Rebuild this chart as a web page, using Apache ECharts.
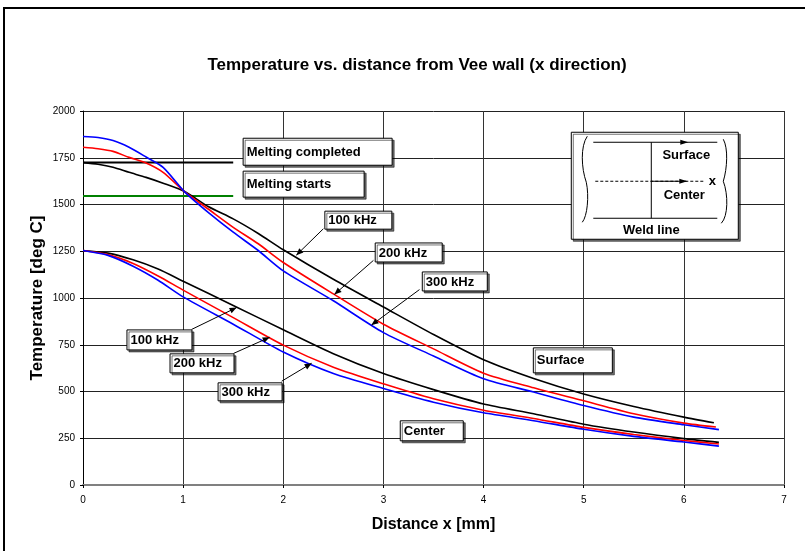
<!DOCTYPE html>
<html><head><meta charset="utf-8">
<script src="https://cdn.jsdelivr.net/npm/echarts@6/dist/echarts.min.js"></script>
<style>html,body{margin:0;padding:0;background:#fff}#c{width:805px;height:551px}</style>
</head><body><div id="c"></div>
<script>
// ---- data ----
const titleText = 'Temperature vs. distance from Vee wall (x direction)';
const xTicks = [0, 1, 2, 3, 4, 5, 6, 7];
const yTicks = [0, 250, 500, 750, 1000, 1250, 1500, 1750, 2000];

const surfX100 = [0, 0.15, 0.3, 0.46, 0.63, 0.8, 1.02, 1.25, 1.5, 1.75, 2.0, 2.5, 3.0, 3.5, 4.0, 4.5, 5.0, 5.5, 6.0, 6.30];
const surfY100 = [1724, 1715, 1699, 1672, 1645, 1614, 1568, 1489, 1423, 1345, 1258, 1100, 952, 805, 670, 570, 487, 420, 363, 333];
const surfX200 = [0, 0.15, 0.3, 0.46, 0.63, 0.8, 1.02, 1.25, 1.5, 1.75, 2.0, 2.5, 3.0, 3.5, 4.0, 4.5, 5.0, 5.5, 6.0, 6.32];
const surfY200 = [1806, 1798, 1784, 1752, 1722, 1672, 1566, 1476, 1378, 1290, 1190, 1022, 860, 728, 598, 520, 450, 381, 331, 310];
const surfX300 = [0, 0.15, 0.3, 0.46, 0.63, 0.8, 1.02, 1.25, 1.5, 1.75, 2.0, 2.5, 3.0, 3.5, 4.0, 4.5, 5.0, 5.5, 6.0, 6.35];
const surfY300 = [1864, 1858, 1842, 1806, 1754, 1699, 1565, 1458, 1352, 1254, 1145, 985, 815, 690, 568, 497, 425, 363, 322, 296];

const centX = [0, 0.25, 0.5, 0.75, 1.0, 1.5, 2.0, 2.5, 3.0, 3.5, 4.0, 4.5, 5.0, 5.5, 6.0, 6.35];
const centY100 = [1254, 1240, 1204, 1155, 1090, 960, 830, 702, 596, 510, 433, 381, 325, 283, 248, 228];
const centY200 = [1254, 1232, 1185, 1118, 1042, 895, 748, 630, 541, 461, 400, 356, 308, 270, 238, 219];
const centY300 = [1254, 1228, 1170, 1095, 1006, 860, 711, 596, 516, 443, 386, 344, 298, 260, 230, 208];

const meltCompletedX = [0, 1.5];
const meltCompletedY = [1725, 1725];
const meltStartsX = [0, 1.5];
const meltStartsY = [1545, 1545];

// annotation anchors in data coordinates: box top-left, arrow tail, arrow tip
const annotations = [
  { text: '100 kHz', box: [2.41, 1467], w: 67, h: 18, tail: [2.40, 1370], tip: [2.13, 1229] },
  { text: '200 kHz', box: [2.913, 1297], w: 67, h: 19, tail: [2.90, 1201], tip: [2.51, 1019] },
  { text: '300 kHz', box: [3.383, 1142], w: 65, h: 19, tail: [3.36, 1045], tip: [2.88, 855] },
  { text: '100 kHz', box: [0.434, 832], w: 65, h: 20, tail: [1.085, 832], tip: [1.534, 949] },
  { text: '200 kHz', box: [0.864, 704], w: 64, h: 19, tail: [1.505, 704], tip: [1.864, 790] },
  { text: '300 kHz', box: [1.344, 549], w: 64, h: 18, tail: [1.984, 555], tip: [2.283, 651] },
  { text: 'Melting completed', box: [1.594, 1857], w: 149, h: 27 },
  { text: 'Melting starts', box: [1.594, 1681], w: 121, h: 26 },
  { text: 'Surface', box: [4.492, 736], w: 79, h: 25 },
  { text: 'Center', box: [3.163, 346], w: 63, h: 20 }
];
const insetAnchor = [4.871, 1889];

function pairs(xs, ys) { return xs.map((x, i) => [x, ys[i]]); }

const chart = echarts.init(document.getElementById('c'), null, { renderer: 'canvas' });
const FONT = '"Liberation Sans", Arial, sans-serif';

function lineSeries(name, xs, ys, color, width) {
  return {
    name, type: 'line', data: pairs(xs, ys), showSymbol: false, smooth: 0.25,
    lineStyle: { color, width }, z: 5, animation: false
  };
}

const option = {
  animation: false,
  backgroundColor: '#fff',
  title: {
    text: titleText, left: 412, top: 52, textAlign: 'center',
    textStyle: { fontFamily: FONT, fontSize: 17, fontWeight: 'bold', color: '#000' }
  },
  grid: { left: 83, right: 21, top: 111, bottom: 66 },
  xAxis: {
    type: 'value', min: 0, max: 7, interval: 1,
    name: 'Distance x [mm]', nameLocation: 'middle', nameGap: 32,
    nameTextStyle: { fontFamily: FONT, fontSize: 16, fontWeight: 'bold', color: '#000' },
    axisLine: { onZero: false, lineStyle: { color: '#808080', width: 2 } },
    axisTick: { show: true, length: 3, lineStyle: { color: '#000' } },
    axisLabel: { fontFamily: FONT, fontSize: 10, color: '#000', margin: 10,
      formatter: v => (xTicks.includes(v) ? String(v) : '') },
    splitLine: { show: true, lineStyle: { color: '#333', width: 1 } }
  },
  yAxis: {
    type: 'value', min: 0, max: 2000, interval: 250,
    name: 'Temperature [deg C]', nameLocation: 'middle', nameGap: 37, nameRotate: 90,
    nameMoveOverlap: false,
    nameTextStyle: { fontFamily: FONT, fontSize: 17, fontWeight: 'bold', color: '#000' },
    axisLine: { show: true, lineStyle: { color: '#000', width: 1 } },
    axisTick: { show: true, length: 3, lineStyle: { color: '#000' } },
    axisLabel: { fontFamily: FONT, fontSize: 10, color: '#000', margin: 8,
      formatter: v => (yTicks.includes(v) ? String(v) : '') },
    splitLine: { show: true, lineStyle: { color: '#222', width: 1 } }
  },
  series: [
    { name: 'Melting completed', type: 'line', data: pairs(meltCompletedX, meltCompletedY), showSymbol: false,
      lineStyle: { color: '#000', width: 2 }, z: 4 },
    { name: 'Melting starts', type: 'line', data: pairs(meltStartsX, meltStartsY), showSymbol: false,
      lineStyle: { color: '#008000', width: 2 }, z: 4 },
    lineSeries('Center 100 kHz', centX, centY100, '#000000', 1.6),
    lineSeries('Center 200 kHz', centX, centY200, '#ff0000', 1.6),
    lineSeries('Center 300 kHz', centX, centY300, '#0000ff', 1.6),
    lineSeries('Surface 100 kHz', surfX100, surfY100, '#000000', 1.6),
    lineSeries('Surface 200 kHz', surfX200, surfY200, '#ff0000', 1.6),
    lineSeries('Surface 300 kHz', surfX300, surfY300, '#0000ff', 1.6)
  ]
};
chart.setOption(option);

function px(p) { return chart.convertToPixel({ gridIndex: 0 }, p); }

const g = [];
// outer frame
g.push({ type: 'rect', shape: { x: 4, y: 8, width: 900, height: 700 }, style: { fill: null, stroke: '#000', lineWidth: 2 }, z: 1, silent: true });

function arrowHead(tail, tip) {
  const dx = tip[0] - tail[0], dy = tip[1] - tail[1];
  const L = Math.sqrt(dx * dx + dy * dy); const ux = dx / L, uy = dy / L;
  const len = 7, hw = 3;
  const bx = tip[0] - ux * len, by = tip[1] - uy * len;
  return { type: 'polygon', shape: { points: [tip, [bx - uy * hw, by + ux * hw], [bx + uy * hw, by - ux * hw]] },
    style: { fill: '#000' }, z: 20 };
}

annotations.forEach(a => {
  const p = px(a.box);
  g.push({ type: 'rect', shape: { x: p[0] + 0.5, y: p[1] + 0.5, width: a.w, height: a.h },
    style: { fill: '#fff', stroke: '#000', lineWidth: 1, shadowColor: 'rgba(0,0,0,0.55)', shadowOffsetX: 2, shadowOffsetY: 2, shadowBlur: 0 }, z: 15 });
  g.push({ type: 'text', x: p[0] + 4, y: p[1] + a.h / 2 + 1,
    style: { text: a.text, font: 'bold 13px ' + FONT, fill: '#000', textVerticalAlign: 'middle', textAlign: 'left' }, z: 16 });
  if (a.tail) {
    const t0 = px(a.tail), t1 = px(a.tip);
    g.push({ type: 'line', shape: { x1: t0[0], y1: t0[1], x2: t1[0], y2: t1[1] }, style: { stroke: '#000', lineWidth: 1 }, z: 19 });
    g.push(arrowHead(t0, t1));
  }
});

// inset diagram
(function () {
  const o = px(insetAnchor); const X = o[0] + 0.5, Y = o[1] + 0.5;
  const kids = [];
  kids.push({ type: 'rect', shape: { x: X, y: Y, width: 167, height: 107 },
    style: { fill: '#fff', stroke: '#000', lineWidth: 1, shadowColor: 'rgba(0,0,0,0.55)', shadowOffsetX: 2, shadowOffsetY: 2 }, z: 15 });
  const L = (x1, y1, x2, y2, dash) => kids.push({ type: 'line', shape: { x1: X + x1, y1: Y + y1, x2: X + x2, y2: Y + y2 },
    style: { stroke: '#000', lineWidth: 1, lineDash: dash || null }, z: 16 });
  L(22, 10, 146, 10);
  L(22, 86, 146, 86);
  L(80, 10, 80, 86);
  L(24, 49, 132, 49, [3, 2]);
  L(80, 49, 115, 49);
  const head = (x, y) => kids.push({ type: 'polygon', shape: { points: [[X + x, Y + y], [X + x - 8, Y + y - 2.5], [X + x - 8, Y + y + 2.5]] }, style: { fill: '#000' }, z: 17 });
  head(117, 10); head(116, 49);
  const T = (t, x, y, al) => kids.push({ type: 'text', x: X + x, y: Y + y,
    style: { text: t, font: 'bold 13px ' + FONT, fill: '#000', textAlign: al || 'center', textVerticalAlign: 'middle' }, z: 17 });
  T('Surface', 115, 23); T('Center', 113, 63); T('Weld line', 80, 98); T('x', 141, 49);
  const B = (x1, y1, c1x, c1y, c2x, c2y, x2, y2) => kids.push({ type: 'bezierCurve',
    shape: { x1: X + x1, y1: Y + y1, cpx1: X + c1x, cpy1: Y + c1y, cpx2: X + c2x, cpy2: Y + c2y, x2: X + x2, y2: Y + y2 },
    style: { fill: null, stroke: '#000', lineWidth: 1 }, z: 16 });
  B(16, 4, 9, 14, 10, 36, 15, 50);
  B(15, 50, 18, 64, 16, 84, 11, 90);
  B(152, 7, 157, 16, 156, 36, 152, 49);
  B(152, 49, 157, 62, 157, 84, 150, 91);
  kids.forEach(k => g.push(k));
})();

chart.setOption({ graphic: { elements: g } });
</script>
</body></html>
